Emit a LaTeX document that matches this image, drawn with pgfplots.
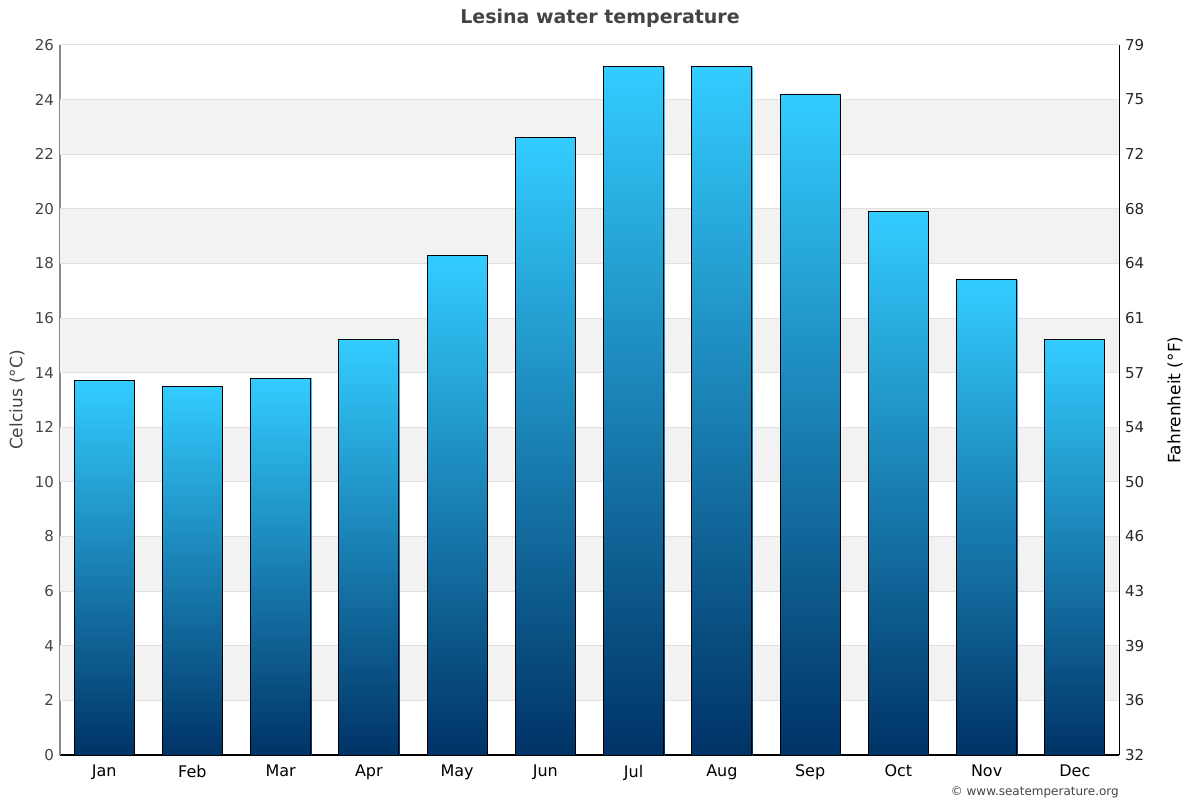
\documentclass[border=0pt]{standalone}
\usepackage{pgfplots}
\pgfplotsset{compat=1.18}
\usepgfplotslibrary{patchplots}
\usepackage{fontspec}
\setmainfont{DejaVu Sans}
\definecolor{barTop}{HTML}{33CCFF}
\definecolor{barBot}{HTML}{003366}
\definecolor{band}{HTML}{F2F2F2}
\definecolor{gridc}{HTML}{E0E0E0}
\definecolor{txt}{HTML}{444444}
\definecolor{laxis}{HTML}{888888}
\begin{document}
\begin{tikzpicture}
\useasboundingbox (0,0) rectangle (900pt,600pt);
\begin{axis}[
  at={(45pt,33.75pt)}, anchor=south west,
  scale only axis, width=794.25pt, height=532.5pt,
  xmin=-0.5, xmax=11.5, ymin=0, ymax=26,
  ytick={0,2,...,26},
  xtick={0,...,11},
  xticklabels={Jan,Feb,Mar,Apr,May,Jun,Jul,Aug,Sep,Oct,Nov,Dec},
  axis x line*=bottom, axis y line*=left,
  x axis line style={black, line width=1.5pt, -},
  y axis line style={laxis, line width=0.75pt, -},
  major tick length=0pt,
  /pgf/number format/assume math mode=true,
  yticklabel style={font=\fontsize{11.25}{13}\selectfont, text=txt, xshift=-1pt},
  xticklabel style={font=\fontsize{12}{14}\selectfont, text=black, yshift=-4pt},
  colormap={barmap}{color=(barBot) color=(barTop)},
  point meta min=0, point meta max=1,
]
\addplot[fill=band, draw=none, forget plot] coordinates {(-0.5,2) (11.5,2) (11.5,4) (-0.5,4)} -- cycle;
\addplot[fill=band, draw=none, forget plot] coordinates {(-0.5,6) (11.5,6) (11.5,8) (-0.5,8)} -- cycle;
\addplot[fill=band, draw=none, forget plot] coordinates {(-0.5,10) (11.5,10) (11.5,12) (-0.5,12)} -- cycle;
\addplot[fill=band, draw=none, forget plot] coordinates {(-0.5,14) (11.5,14) (11.5,16) (-0.5,16)} -- cycle;
\addplot[fill=band, draw=none, forget plot] coordinates {(-0.5,18) (11.5,18) (11.5,20) (-0.5,20)} -- cycle;
\addplot[fill=band, draw=none, forget plot] coordinates {(-0.5,22) (11.5,22) (11.5,24) (-0.5,24)} -- cycle;
\pgfplotsinvokeforeach{2,4,...,26}{
  \addplot[gridc, line width=0.75pt, forget plot] coordinates {(-0.5,#1) (11.5,#1)};
}
% gradient fill of each bar (4 corners per bar; meta 0 at bottom, 1 at top)
\addplot[patch, patch type=rectangle, shader=interp, point meta=explicit, forget plot]
  table[meta=c] {
x y c
-0.34 0 0
0.34 0 0
0.34 13.7 1
-0.34 13.7 1
0.66 0 0
1.34 0 0
1.34 13.5 1
0.66 13.5 1
1.66 0 0
2.34 0 0
2.34 13.8 1
1.66 13.8 1
2.66 0 0
3.34 0 0
3.34 15.2 1
2.66 15.2 1
3.66 0 0
4.34 0 0
4.34 18.3 1
3.66 18.3 1
4.66 0 0
5.34 0 0
5.34 22.6 1
4.66 22.6 1
5.66 0 0
6.34 0 0
6.34 25.2 1
5.66 25.2 1
6.66 0 0
7.34 0 0
7.34 25.2 1
6.66 25.2 1
7.66 0 0
8.34 0 0
8.34 24.2 1
7.66 24.2 1
8.66 0 0
9.34 0 0
9.34 19.9 1
8.66 19.9 1
9.66 0 0
10.34 0 0
10.34 17.4 1
9.66 17.4 1
10.66 0 0
11.34 0 0
11.34 15.2 1
10.66 15.2 1
};
% bar outlines
\addplot[ybar, bar width=0.68, draw=black, line width=0.75pt, fill=none]
  coordinates {(0,13.7) (1,13.5) (2,13.8) (3,15.2) (4,18.3) (5,22.6)
               (6,25.2) (7,25.2) (8,24.2) (9,19.9) (10,17.4) (11,15.2)};
\end{axis}
\begin{axis}[
  at={(45pt,33.75pt)}, anchor=south west,
  scale only axis, width=794.25pt, height=532.5pt,
  xmin=-0.5, xmax=11.5, ymin=0, ymax=26,
  axis x line=none, axis y line*=right,
  y axis line style={black, line width=0.75pt, -},
  major tick length=0pt,
  ytick={0,2,...,26},
  yticklabels={32,36,39,43,46,50,54,57,61,64,68,72,75,79},
  /pgf/number format/assume math mode=true,
  yticklabel style={font=\fontsize{11.25}{13}\selectfont, text=black!85, xshift=1pt},
]
\addplot[draw=none] coordinates {(0,0) (11,26)};
\end{axis}
\node[font=\bfseries\fontsize{14.25}{17}\selectfont, text=txt] at (450pt,586.5pt) {Lesina water temperature};
\node[font=\fontsize{12.75}{15}\selectfont, text=txt, rotate=90] at (12.75pt,300pt) {Celcius (°C)};
\node[font=\fontsize{12.75}{15}\selectfont, text=black, rotate=90] at (881.25pt,300pt) {Fahrenheit (°F)};
\node[font=\fontsize{9}{11}\selectfont, text=txt, anchor=east, inner sep=0pt] at (839.25pt,6pt) {© www.seatemperature.org};
\end{tikzpicture}
\end{document}
